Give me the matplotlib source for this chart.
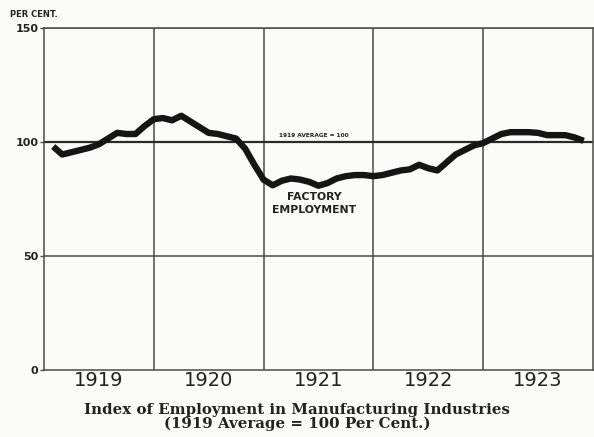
import numpy as np
import matplotlib.pyplot as plt

# monthly index, Jan 1919 - Nov 1923 (1919 average = 100)
years = ["1919", "1920", "1921", "1922", "1923"]
employment = [
    98, 94.5, 95.5, 96.5, 97.5, 99, 101.5, 104, 103.5, 103.5, 107, 110,      # 1919
    110.5, 109.5, 111.5, 109, 106.5, 104, 103.5, 102.5, 101.5, 97, 90, 83.5,  # 1920
    81, 83, 84, 83.5, 82.5, 80.8, 82, 84, 85, 85.5, 85.5, 85,                 # 1921
    85.5, 86.5, 87.5, 88, 90, 88.5, 87.5, 91, 94.5, 96.5, 98.5, 99.5,         # 1922
    101.5, 103.5, 104.3, 104.3, 104.3, 104, 103, 103, 103, 102, 100.5,        # 1923
]
y_ticks = [0, 50, 100, 150]

months = (np.arange(len(employment)) + 1) / 12.0

fig = plt.figure(figsize=(5.94, 4.37), dpi=100)
fig.patch.set_facecolor("#fbfbf9")
ax = fig.add_axes([0.0741, 0.1533, 0.9239, 0.7827])
ax.set_facecolor("#fbfbf9")

grid_c = "#4a4a4a"
for yv in [50, 150]:
    ax.axhline(yv, color=grid_c, lw=1.1, zorder=1)
for xv in range(1, 5):
    ax.axvline(xv, color=grid_c, lw=1.1, zorder=1)
ax.axhline(100, color="#2a2a2a", lw=1.6, zorder=2)

ax.plot(months, employment, color="#151515", lw=4.6, solid_capstyle="butt",
        solid_joinstyle="round", zorder=3)

ax.set_xlim(0, 5)
ax.set_ylim(0, 150)
for s in ax.spines.values():
    s.set_color(grid_c)
    s.set_linewidth(1.1)

ax.set_xticks(np.arange(5) + 0.5)
ax.set_xticklabels(years, fontsize=14, color="#222222")
ax.set_yticks(y_ticks)
ax.set_yticklabels([str(v) for v in y_ticks], fontsize=8, fontweight="bold", color="#222222")
ax.tick_params(axis="x", length=0, pad=0.5)
ax.tick_params(axis="y", length=3, width=1, color=grid_c, pad=1)

fig.text(0.016, 0.96, "PER CENT.", fontsize=6, fontweight="bold", color="#222222")
ax.text(2.46, 101.8, "1919 AVERAGE = 100", fontsize=4.2, fontweight="bold", color="#222222",
        ha="center", va="bottom")
ax.text(2.46, 73, "FACTORY\nEMPLOYMENT", fontsize=7.8, fontweight="bold", color="#222222",
        ha="center", va="center", linespacing=1.4)

fig.text(0.5, 0.045, "Index of Employment in Manufacturing Industries\n(1919 Average = 100 Per Cent.)",
         fontsize=10.8, family="DejaVu Serif", fontweight="bold", color="#222222",
         ha="center", va="center", linespacing=0.95)

fig.savefig("out.png", dpi=100, facecolor=fig.get_facecolor())
